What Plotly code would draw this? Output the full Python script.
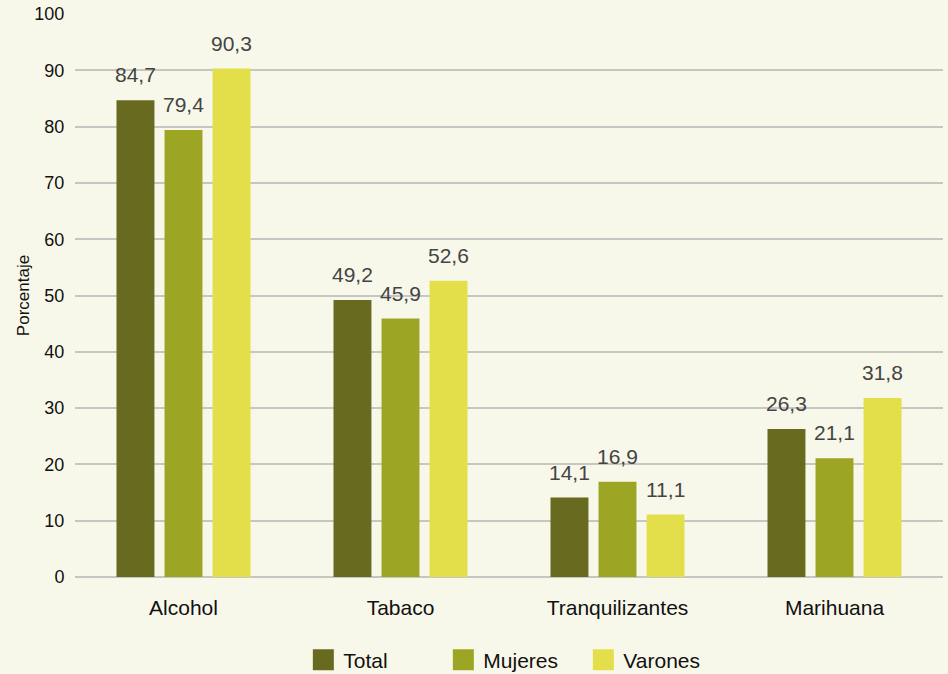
import plotly.graph_objects as go

categories = ["Alcohol", "Tabaco", "Tranquilizantes", "Marihuana"]
total = [84.7, 49.2, 14.1, 26.3]
mujeres = [79.4, 45.9, 16.9, 21.1]
varones = [90.3, 52.6, 11.1, 31.8]
series_names = ["Total", "Mujeres", "Varones"]
colors = ["#676a1f", "#9da624", "#e3df4b"]

W, H = 948, 674
ML, MR, MT, MB = 75, 5, 14, 97
BARGAP = 0.336
FONT = "Liberation Sans, Arial, Helvetica"

def fmt(v):
    return f"{v:.1f}".replace(".", ",")

fig = go.Figure()
series = [total, mujeres, varones]
for name, vals, col in zip(series_names, series, colors):
    fig.add_trace(go.Bar(
        x=categories, y=vals, name=name, marker_color=col,
        marker_line_width=0, showlegend=False, hoverinfo="x+y",
    ))
    # legend entry with a bigger swatch
    fig.add_trace(go.Scatter(
        x=[None], y=[None], mode="markers", name=name,
        marker=dict(symbol="square", size=16, color=col, line=dict(color=col, width=5)),
        showlegend=True,
    ))

# value labels above bars (offset within group computed from layout)
plot_w = W - ML - MR
cat_w = plot_w / len(categories)
slot = cat_w * (1 - BARGAP) / len(series)
for i, vals in enumerate(series):
    shift = (i - (len(series) - 1) / 2) * slot
    for c, v in zip(categories, vals):
        fig.add_annotation(x=c, y=v, text=fmt(v), showarrow=False,
                           xshift=shift, yshift=12, yanchor="bottom",
                           font=dict(size=21, color="#444444", family=FONT))

fig.update_layout(
    width=W, height=H,
    barmode="group", bargap=BARGAP, bargroupgap=0.21,
    paper_bgcolor="#f8f8ea", plot_bgcolor="#f8f8ea",
    margin=dict(l=ML, r=MR, t=MT, b=MB, autoexpand=False),
    font=dict(family=FONT, size=18, color="#111111"),
    legend=dict(orientation="h", x=0.505, xanchor="center",
                yref="container", y=(H - 660) / H, yanchor="middle",
                font=dict(size=21, color="#111111"), bgcolor="rgba(0,0,0,0)",
                itemsizing="trace", traceorder="normal",
                entrywidth=95, entrywidthmode="pixels"),
    yaxis=dict(range=[0, 100], dtick=10, showgrid=True, gridcolor="#c6c6c2", gridwidth=2,
               zeroline=True, zerolinecolor="#c6c6c2", zerolinewidth=2,
               ticks="outside", ticklen=6, tickcolor="rgba(0,0,0,0)",
               tickfont=dict(size=18, color="#111111"), automargin=False,
               title=dict(text="Porcentaje", font=dict(size=17, color="#111111"), standoff=0),
               fixedrange=True),
    xaxis=dict(showgrid=False, showline=False, ticks="outside", ticklen=12, automargin=False,
               tickcolor="rgba(0,0,0,0)", tickfont=dict(size=21, color="#111111")),
)
fig.write_html("out.html", config={"displayModeBar": False},
               post_script="document.body.style.margin='0';")
